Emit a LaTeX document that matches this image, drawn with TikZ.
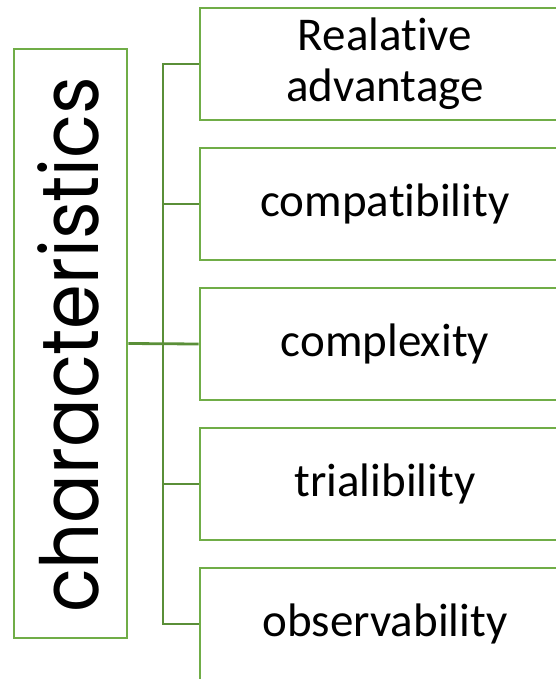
\documentclass[tikz,border=0pt]{standalone}
\usepackage{fontspec}
\setmainfont{Carlito}[Ligatures={NoCommon,NoContextual,NoRare}]
\newfontfamily\charfont{Poppins}
\definecolor{boxgreen}{HTML}{70AD47}
\definecolor{linegreen}{HTML}{5A8F38}
\tikzset{
  itembox/.style={draw=boxgreen, line width=2.8pt, minimum width=370pt, minimum height=112pt,
    inner sep=0pt, align=center, font=\fontsize{47}{51}\selectfont, text=black},
  charbox/.style={draw=boxgreen, line width=2.8pt, minimum width=113pt, minimum height=589pt,
    inner sep=0pt},
  conn/.style={draw=linegreen, line width=2.8pt}
}
\begin{document}
\begin{tikzpicture}[x=1pt,y=-1pt]
\useasboundingbox (0,0) rectangle (556,679);
\clip (0,0) rectangle (556,679);
\fill[white] (0,0) rectangle (556,679);
\node[charbox] (char) at (70.5,343.5) {};
\node[rotate=90, font=\charfont\fontsize{80}{80}\selectfont, anchor=base, inner sep=0pt] (chartext) at (98,345) {\scalebox{0.9}[1]{characteristics}};
\node[itembox] (b1) at (385,64) {Realat\kern0pt ive\\advantage};
\node[itembox] (b2) at (385,204) {compat\kern0pt ibility};
\node[itembox] (b3) at (385,344) {complexity};
\node[itembox] (b4) at (385,484) {trialibility};
\node[itembox] (b5) at (385,624) {observability};
\coordinate (j) at (163,344);
\draw[conn] (b1.west) -- (b1.west -| j) -- (b5.west -| j) -- (b5.west);
\draw[conn] (b2.west) -- (b2.west -| j);
\draw[conn] (b4.west) -- (b4.west -| j);
\draw[conn] (char.east) -- (b3.west);
\end{tikzpicture}
\end{document}
